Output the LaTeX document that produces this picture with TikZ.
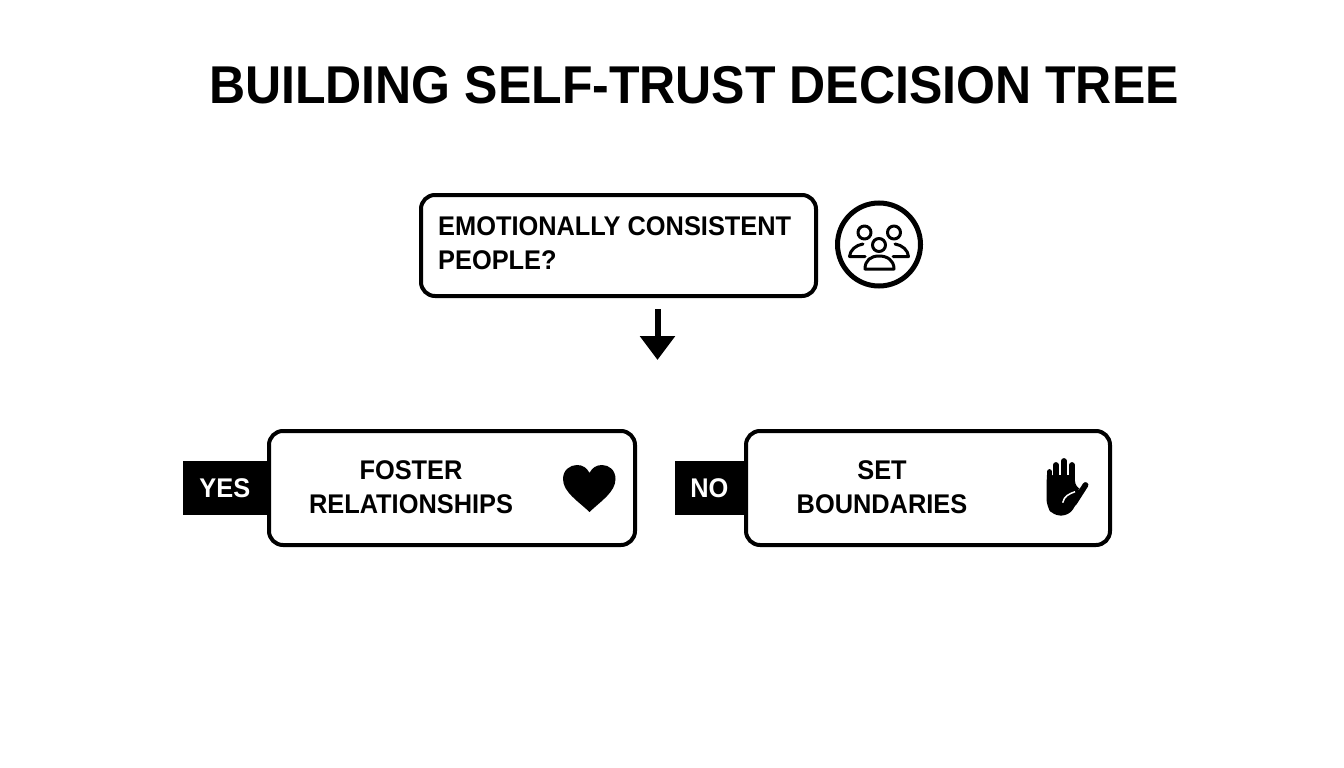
\documentclass[tikz,border=0pt]{standalone}
\usepackage{fontspec}
\setmainfont[FakeStretch=0.94]{Liberation Sans}
\usepackage{tikz}
\usetikzlibrary{positioning}
\usetikzlibrary{arrows.meta}

\begin{document}
\begin{tikzpicture}[%
    x=1pt,
    y=-1pt,
    >={Triangle[width=34pt,length=24pt]},
    titletext/.style={%
      font=\bfseries\fontsize{53.2}{53.2}\selectfont,
      inner sep=0pt
    },
    boxtext/.style={%
      font=\bfseries\fontsize{27}{33.5}\selectfont,
      inner sep=0pt
    },
    answerbox/.style={%
      rectangle,
      rounded corners=14pt,
      line width=4pt,
      minimum height=114pt,
      draw
    },
    answertag/.style={%
      rectangle,
      fill=black,
      text=white,
      minimum height=54pt,
      inner sep=0pt,
      font=\bfseries\fontsize{27}{27}\selectfont
    },
    iconline/.style={%
      line width=3pt,
      line cap=round,
      line join=round
    },
    fingerline/.style={%
      line width=5.8pt,
      line cap=round
    }
  ]
  \useasboundingbox (0,0) rectangle (1344,768);
  % Nodes: 
    \node[titletext] (title) at (694,85) {BUILDING SELF-TRUST DECISION TREE};
    \node[answerbox, minimum width=395pt, minimum height=101pt] (question) at (618.5,245.5) {};
    \node[boxtext, align=left, anchor=west] (questiontext) at (438,243) {EMOTIONALLY CONSISTENT\\PEOPLE?};
    \node[circle, draw, line width=5pt, minimum size=83pt, inner sep=0pt, yshift=1pt] (peopleicon) [right=17pt of question] {};
    \node[answerbox, minimum width=366pt] (yesbox) at (452,488) {};
    \node[answertag, minimum width=84pt] (yestag) [left=0pt of yesbox] {YES};
    \node[boxtext, align=center] (yestext) at (411,487) {FOSTER\\RELATIONSHIPS};
    \node[answerbox, minimum width=364pt] (nobox) at (928,488) {};
    \node[answertag, minimum width=69pt] (notag) [left=0pt of nobox] {NO};
    \node[boxtext, align=center] (notext) at (882,487) {SET\\BOUNDARIES};
    \coordinate (arrowstart) at (657.5,309);
    \coordinate (arrowend) at (657.5,360);
  % Paths: 
    \draw[->, line width=6pt] (arrowstart) -- (arrowend);
  % People icon: 
    \draw[iconline] (864.5,232.5) circle (6.5);
    \draw[iconline] (894,232.5) circle (6.5);
    \draw[iconline] (879,245) circle (6.5);
    \draw[iconline] (865,269) .. controls (865,260) and (871,256) .. (879,256)
      .. controls (887,256) and (894,260) .. (894,269) -- cycle;
    \draw[iconline] (863,244) .. controls (856,245) and (850,250) .. (849.5,256.5) -- (865,256.5);
    \draw[iconline] (895,244) .. controls (902,245) and (908,250) .. (908.5,256.5) -- (893,256.5);
  % Heart: 
    \fill (589.5,512) .. controls (578,501) and (563,492) .. (563,479)
      .. controls (563,470) and (570,465) .. (577,465)
      .. controls (583,465) and (587,468) .. (589.5,473)
      .. controls (592,468) and (596,465) .. (602,465)
      .. controls (609,465) and (615.5,470) .. (615.5,479)
      .. controls (615.5,492) and (601,501) .. (589.5,512) -- cycle;
  % Hand: 
    \fill[rounded corners=7pt] (1046.5,482) -- (1046.5,506) -- (1053,515.5) -- (1069,515.5)
      -- (1077,503) -- (1083,490) -- (1075,488) -- (1075,475) -- (1046.5,475) -- cycle;
    \draw[fingerline] (1049.5,472) -- (1049.5,490);
    \draw[fingerline] (1055.8,465) -- (1055.8,490);
    \draw[fingerline] (1063.8,461) -- (1063.8,490);
    \draw[fingerline] (1072,465) -- (1072,490);
    \draw[fingerline] (1074,503) -- (1085.5,485);
    \draw[white, line width=1.5pt] (1062.7,502.7) .. controls (1064,496) and (1069,494) .. (1075,491.7);
\end{tikzpicture}
\end{document}
